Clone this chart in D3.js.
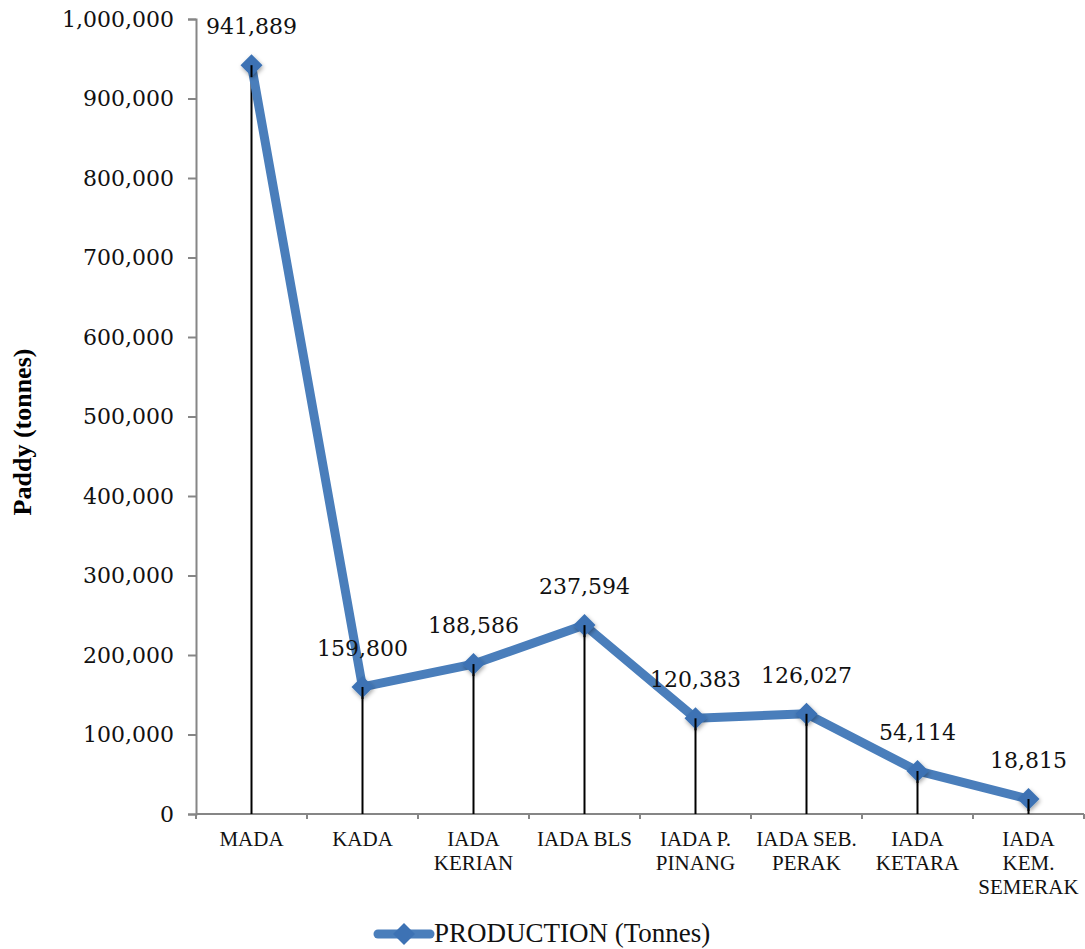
<!DOCTYPE html>
<html>
<head>
<meta charset="utf-8">
<script src="https://cdn.jsdelivr.net/npm/d3@7"></script>
<style>
  html, body { margin: 0; padding: 0; background: #fff; }
  svg { display: block; }
</style>
</head>
<body>
<svg id="chart" width="1085" height="949"></svg>
<script>
// Paddy production by granary area
const categories = ['MADA', 'KADA', 'IADA KERIAN', 'IADA BLS', 'IADA P. PINANG', 'IADA SEB. PERAK', 'IADA KETARA', 'IADA KEM. SEMERAK'];
const categoryLines = [['MADA'], ['KADA'], ['IADA', 'KERIAN'], ['IADA BLS'], ['IADA P.', 'PINANG'], ['IADA SEB.', 'PERAK'], ['IADA', 'KETARA'], ['IADA', 'KEM.', 'SEMERAK']];
const production = [941889, 159800, 188586, 237594, 120383, 126027, 54114, 18815];
const yTicks = [0, 100000, 200000, 300000, 400000, 500000, 600000, 700000, 800000, 900000, 1000000];
const seriesName = 'PRODUCTION (Tonnes)';
const yTitle = 'Paddy (tonnes)';

const blue = '#4a7ebb';
const markerBlue = '#3d72b4';
const axisGrey = '#868686';
const numFont = '"DejaVu Serif", serif';
const txtFont = '"Liberation Serif", "Times New Roman", serif';

const svg = d3.select('#chart');

const x = d3.scaleBand().domain(categories).range([196, 1084]).padding(0);
const y = d3.scaleLinear().domain([0, 1000000]).range([814, 19]);
const fmt = d3.format(',');

// soft shadow under the markers
const defs = svg.append('defs');
const f = defs.append('filter').attr('id', 'shadow').attr('x', '-50%').attr('y', '-50%').attr('width', '200%').attr('height', '200%');
f.append('feDropShadow').attr('dx', 1).attr('dy', 2).attr('stdDeviation', 2).attr('flood-color', '#000').attr('flood-opacity', 0.35);

// y axis
const yAxis = svg.append('g')
  .attr('transform', `translate(${x.range()[0]},0)`)
  .call(d3.axisLeft(y).tickValues(yTicks).tickFormat(fmt).tickSize(8).tickPadding(14));
yAxis.select('.domain').attr('stroke', axisGrey).attr('stroke-width', 2);
yAxis.selectAll('.tick line').attr('stroke', axisGrey).attr('stroke-width', 2);
yAxis.selectAll('.tick text')
  .attr('font-family', numFont).attr('font-size', 22).attr('fill', '#111');

// x axis with ticks at category boundaries
const xAxis = svg.append('g').attr('transform', `translate(0,${y(0)})`);
xAxis.append('line')
  .attr('x1', x.range()[0]).attr('x2', x.range()[1])
  .attr('stroke', axisGrey).attr('stroke-width', 2);
const bounds = categories.map(c => x(c)).concat([x.range()[1]]);
xAxis.selectAll('line.bt').data(bounds).join('line')
  .attr('class', 'bt')
  .attr('x1', d => d).attr('x2', d => d)
  .attr('y1', 0).attr('y2', 5)
  .attr('stroke', axisGrey).attr('stroke-width', 2);

const cx = c => x(c) + x.bandwidth() / 2;

const labels = xAxis.selectAll('text.cat').data(categories).join('text')
  .attr('class', 'cat')
  .attr('text-anchor', 'middle')
  .attr('font-family', txtFont).attr('font-size', 21).attr('fill', '#111');
labels.each(function (c, i) {
  d3.select(this).selectAll('tspan').data(categoryLines[i]).join('tspan')
    .attr('x', cx(c))
    .attr('y', (d, j) => 32 + j * 24)
    .text(d => d);
});

// drop lines
svg.append('g').selectAll('line').data(production).join('line')
  .attr('x1', (d, i) => cx(categories[i])).attr('x2', (d, i) => cx(categories[i]))
  .attr('y1', d => y(d)).attr('y2', y(0))
  .attr('stroke', '#000').attr('stroke-width', 2);

// series line
const line = d3.line()
  .x((d, i) => cx(categories[i]))
  .y(d => y(d));
svg.append('path')
  .datum(production)
  .attr('d', line)
  .attr('fill', 'none')
  .attr('stroke', blue)
  .attr('stroke-width', 9)
  .attr('stroke-linejoin', 'round');

// diamond markers
const diamond = d3.symbol().type(d3.symbolDiamond2).size(310);
svg.append('g').selectAll('path').data(production).join('path')
  .attr('d', diamond)
  .attr('transform', (d, i) => `translate(${cx(categories[i])},${y(d)})`)
  .attr('fill', markerBlue)
  .attr('filter', 'url(#shadow)');

// drop lines again, visible over the marker centre
svg.append('g').selectAll('line').data(production).join('line')
  .attr('x1', (d, i) => cx(categories[i])).attr('x2', (d, i) => cx(categories[i]))
  .attr('y1', d => y(d)).attr('y2', d => y(d) + 12)
  .attr('stroke', '#000').attr('stroke-width', 2);

// data labels
svg.append('g').selectAll('text').data(production).join('text')
  .attr('x', (d, i) => cx(categories[i]))
  .attr('y', d => y(d) - 31)
  .attr('text-anchor', 'middle')
  .attr('font-family', numFont).attr('font-size', 22).attr('fill', '#111')
  .text(d => fmt(d));

// y title
svg.append('text')
  .attr('transform', `translate(31,432) rotate(-90)`)
  .attr('text-anchor', 'middle')
  .attr('font-family', txtFont).attr('font-size', 26).attr('font-weight', 'bold')
  .text(yTitle);

// legend
const lg = svg.append('g').attr('transform', 'translate(0,934)');
lg.append('line')
  .attr('x1', 378).attr('x2', 430)
  .attr('stroke', blue).attr('stroke-width', 9).attr('stroke-linecap', 'round');
lg.append('path')
  .attr('d', diamond)
  .attr('transform', 'translate(404,0)')
  .attr('fill', markerBlue);
lg.append('text')
  .attr('x', 434).attr('y', 8)
  .attr('font-family', txtFont).attr('font-size', 27).attr('fill', '#111')
  .text(seriesName);
</script>
</body>
</html>
